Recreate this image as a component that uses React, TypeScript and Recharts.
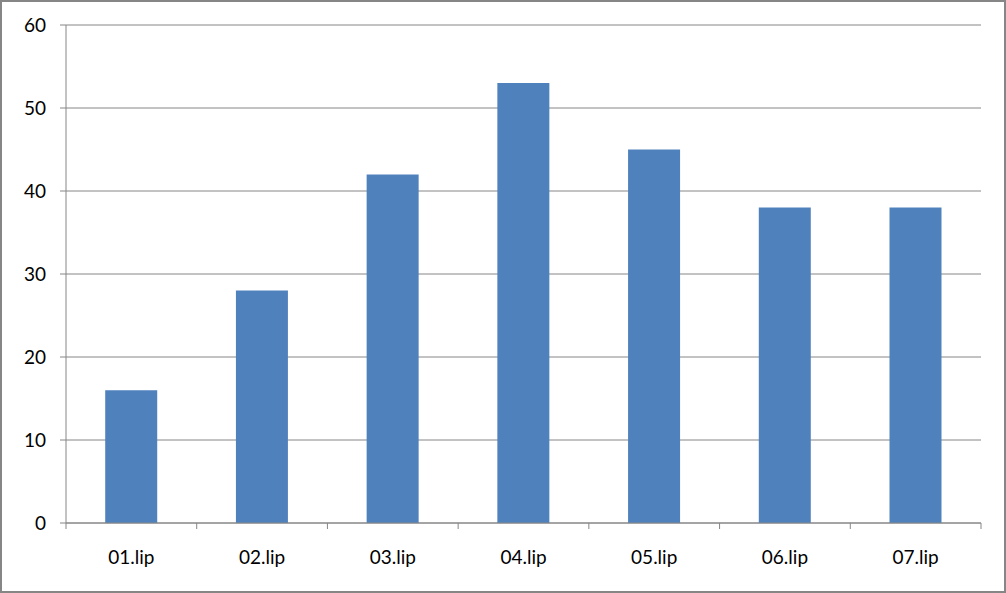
import { BarChart, Bar, XAxis, YAxis, CartesianGrid } from 'recharts';

const categories = ['01.lip', '02.lip', '03.lip', '04.lip', '05.lip', '06.lip', '07.lip'];
const values = [16, 28, 42, 53, 45, 38, 38];
const yTicks = [0, 10, 20, 30, 40, 50, 60];

const data = categories.map((name, i) => ({ name, value: values[i] }));

const GRAY = '#868686';
const FONT = 'Lato, "Open Sans", sans-serif';

// x ticks sit on category boundaries, not centers
function XTick(props: any) {
  const { x, y, payload, index, visibleTicksCount } = props;
  const half = payload.offset ?? 0;
  const top = y - 22 - 6;
  const last = index === visibleTicksCount - 1;
  return (
    <g>
      <line x1={x - half} x2={x - half} y1={top} y2={top + 6} stroke={GRAY} />
      {last && <line x1={x + half} x2={x + half} y1={top} y2={top + 6} stroke={GRAY} />}
      <text x={x} y={y} dy="0.71em" textAnchor="middle" fill="#000" fontSize={19} fontFamily={FONT}>
        {payload.value}
      </text>
    </g>
  );
}

export default function App() {
  return (
    <div
      style={{
        position: 'absolute',
        left: 0,
        top: 0,
        width: 1006,
        height: 593,
        border: `2px solid ${GRAY}`,
        boxSizing: 'border-box',
        background: '#fff',
      }}
    >
      <BarChart
        width={1002}
        height={589}
        data={data}
        margin={{ top: 23, right: 23, left: 0, bottom: 0 }}
        barCategoryGap="30%"
      >
        <CartesianGrid vertical={false} stroke={GRAY} strokeDasharray="" />
        <XAxis
          dataKey="name"
          height={68}
          tickSize={6}
          tickMargin={22}
          tickLine={false}
          axisLine={{ stroke: GRAY }}
          tick={<XTick />}
          interval={0}
        />
        <YAxis
          width={64}
          domain={[0, 60]}
          ticks={yTicks}
          tickSize={6}
          tickMargin={14}
          axisLine={{ stroke: GRAY }}
          tickLine={{ stroke: GRAY }}
          tick={{ fill: '#000', fontSize: 19, fontFamily: FONT }}
        />
        <Bar dataKey="value" fill="#4F81BD" isAnimationActive={false} />
      </BarChart>
    </div>
  );
}
